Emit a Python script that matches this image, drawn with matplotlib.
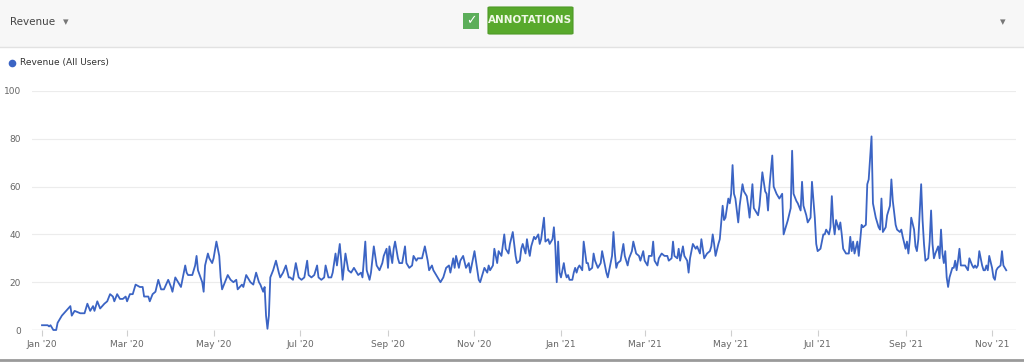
import matplotlib
matplotlib.use("Agg")
import matplotlib.pyplot as plt
from matplotlib.patches import Rectangle, FancyBboxPatch
from matplotlib.lines import Line2D
import pandas as pd

W, H = 1024, 363
START = pd.Timestamp("2020-01-01")

# days since 1 Jan 2020
day_offsets = [
    0, 2, 4, 5, 6, 7, 8, 9, 10, 11, 13, 14, 17, 20, 21, 23, 27, 30, 32, 34, 36, 37, 39, 41,
    44, 46, 48, 50, 51, 53, 55, 57, 59, 60, 62, 64, 66, 69, 71, 72, 75, 76, 78, 80, 82, 84,
    86, 89, 91, 92, 94, 96, 98, 101, 102, 103, 106, 108, 109, 110, 113, 114, 115, 117, 118,
    120, 121, 123, 125, 126, 127, 129, 131, 133, 135, 137, 138, 141, 142, 144, 147, 149, 151,
    153, 154, 156, 157, 158, 159, 160, 161, 163, 165, 167, 168, 170, 172, 174, 175, 177, 179,
    181, 183, 185, 187, 188, 190, 192, 194, 195, 197, 199, 200, 202, 204, 205, 207, 208, 210,
    211, 212, 214, 216, 218, 220, 221, 223, 225, 226, 228, 229, 231, 232, 234, 236, 238, 240,
    241, 243, 244, 245, 247, 248, 249, 251, 252, 254, 256, 257, 259, 261, 262, 264, 265, 268,
    270, 272, 273, 275, 276, 278, 280, 281, 283, 285, 287, 288, 290, 291, 292, 294, 295, 297,
    299, 301, 302, 304, 305, 307, 308, 309, 311, 312, 314, 315, 316, 318, 319, 321, 322, 324,
    326, 327, 329, 330, 332, 334, 335, 337, 338, 339, 341, 342, 343, 344, 345, 347, 348, 350,
    351, 352, 354, 355, 357, 358, 360, 361, 362, 363, 364, 365, 366, 368, 369, 370, 371, 372,
    374, 375, 376, 377, 378, 379, 381, 382, 384, 385, 386, 388, 389, 390, 392, 394, 395, 397,
    398, 399, 401, 402, 403, 404, 405, 406, 408, 410, 411, 413, 414, 416, 417, 419, 421, 422,
    424, 425, 427, 428, 430, 431, 432, 434, 435, 437, 439, 441, 442, 444, 445, 446, 448, 449,
    450, 452, 453, 455, 456, 457, 459, 461, 462, 464, 465, 467, 469, 471, 472, 473, 474, 475,
    477, 478, 480, 481, 482, 484, 485, 486, 487, 488, 489, 491, 492, 494, 495, 497, 498, 499,
    501, 502, 504, 505, 506, 508, 510, 511, 512, 513, 515, 516, 518, 520, 522, 523, 525, 526,
    528, 529, 530, 532, 533, 535, 536, 537, 539, 540, 542, 543, 545, 546, 547, 549, 551, 552,
    553, 555, 556, 557, 558, 559, 560, 562, 563, 564, 565, 567, 569, 570, 571, 572, 573, 575,
    576, 578, 579, 581, 582, 583, 584, 585, 586, 588, 590, 591, 592, 593, 595, 596, 598, 599,
    600, 602, 603, 605, 606, 607, 609, 610, 611, 612, 613, 615, 616, 617, 618, 620, 621, 622,
    623, 625, 626, 627, 628, 629, 630, 632, 633, 634, 635, 636, 637, 638, 639, 640, 642, 643,
    644, 645, 646, 647, 648, 650, 651, 652, 653, 654, 656, 657, 658, 659, 660, 661, 663, 664,
    665, 666, 667, 668, 670, 671, 672, 673, 674, 676, 677, 678, 679, 680,
]

revenue = [
    2, 2, 2, 1.5, 2, 1, 0, 0, 0, 3, 5, 6, 8, 10, 6, 8, 7, 7, 11, 8, 10, 8, 12, 9,
    11, 12, 15, 14, 12, 15, 13, 13, 14, 12, 15, 15, 19, 18, 18, 14, 14, 12, 15, 16, 21, 17,
    17, 21, 18, 16, 22, 20, 18, 27, 24, 23, 23, 27, 31, 25, 20, 16, 27, 32, 30,
    28, 30, 37, 31, 22, 17, 20, 23, 21, 20, 21, 17, 19, 18, 23, 20, 19, 24,
    20, 19, 16, 18, 6, 0.5, 6, 22, 25, 29, 24, 22, 24, 27, 22, 22, 21, 28,
    22, 21, 22, 29, 23, 22, 23, 27, 22, 21, 22, 27, 22, 22, 24, 32, 27, 36,
    29, 21, 32, 25, 24, 26, 25, 23, 24, 22, 37, 25, 21, 24, 35, 27, 25, 28,
    31, 34, 26, 35, 28, 34, 37, 30, 28, 28, 35, 28, 26, 27, 31, 29, 30, 30,
    35, 29, 25, 27, 25, 23, 21, 20, 22, 26, 27, 24, 30, 26, 31, 26, 29, 31,
    26, 28, 24, 30, 33, 25, 21, 20, 24, 26, 24, 27, 25, 27, 34, 28, 33, 31,
    40, 34, 32, 36, 41, 31, 28, 29, 34, 36, 32, 38, 34, 31, 35, 39, 38, 40,
    36, 38, 47, 37, 38, 36, 38, 43, 35, 20, 37, 24, 22, 28, 24, 22, 23, 21,
    21, 24, 26, 24, 26, 27, 25, 37, 28, 28, 25, 26, 32, 29, 26, 28, 33, 27,
    24, 22, 28, 31, 41, 32, 26, 28, 29, 36, 31, 27, 30, 33, 37, 32, 31, 29,
    33, 29, 27, 31, 31, 37, 29, 27, 30, 32, 31, 31, 29, 30, 37, 31, 30, 34,
    29, 35, 31, 29, 24, 30, 36, 34, 35, 32, 38, 30, 32, 33, 35, 40, 36, 31,
    36, 38, 52, 46, 47, 55, 53, 57, 69, 57, 55, 45, 52, 61, 58, 56, 52, 47,
    61, 51, 49, 48, 52, 66, 58, 57, 50, 60, 73, 60, 57, 55, 57, 40, 44, 46,
    51, 75, 57, 54, 53, 50, 62, 52, 48, 45, 47, 62, 47, 36, 33, 34, 40, 40,
    42, 40, 43, 56, 45, 40, 46, 42, 45, 40, 34, 32, 32, 39, 33, 37, 32, 37,
    31, 44, 43, 44, 61, 63, 72, 81, 53, 47, 43, 42, 55, 41, 43, 48, 52, 63,
    54, 44, 42, 41, 42, 39, 34, 37, 32, 38, 47, 42, 35, 33, 38, 61, 46, 36,
    29, 30, 37, 50, 36, 30, 32, 35, 30, 42, 32, 28, 33, 22, 18, 22, 26, 26,
    29, 25, 29, 34, 27, 27, 27, 26, 25, 30, 27, 26, 27, 26, 27, 33, 27, 25,
    25, 27, 25, 31, 26, 22, 21, 25, 26, 27, 33, 27, 26, 25,
]

tick_months = ["2020-01-01", "2020-03-01", "2020-05-01", "2020-07-01", "2020-09-01",
               "2020-11-01", "2021-01-01", "2021-03-01", "2021-05-01", "2021-07-01",
               "2021-09-01", "2021-11-01"]
tick_labels = ["Jan '20", "Mar '20", "May '20", "Jul '20", "Sep '20", "Nov '20",
               "Jan '21", "Mar '21", "May '21", "Jul '21", "Sep '21", "Nov '21"]
y_ticks = [0, 20, 40, 60, 80, 100]

LINE = "#3b64c4"
TXT = "#666666"


def fx(px):
    return px / W


def fy(py):
    return 1 - py / H


fig = plt.figure(figsize=(W / 100, H / 100), dpi=100)
fig.patch.set_facecolor("white")

# header bar
fig.patches.append(Rectangle((0, fy(47)), 1, 47 / H, transform=fig.transFigure,
                             facecolor="#f7f7f7", edgecolor="none", zorder=0))
fig.lines.append(Line2D([0, 1], [fy(47), fy(47)], transform=fig.transFigure,
                        color="#e2e2e2", lw=1))
fig.text(fx(10), fy(22), "Revenue", fontsize=7.5, color="#444444", va="center")
fig.text(fx(63), fy(22), "\u25be", fontsize=8, color="#777777", va="center")
fig.text(fx(1000), fy(22), "\u25be", fontsize=8, color="#777777", va="center")

fig.patches.append(Rectangle((fx(463), fy(29)), 16 / W, 16 / H, transform=fig.transFigure,
                             facecolor="#5cae5a", edgecolor="none"))
fig.text(fx(471), fy(21), "\u2713", fontsize=9, color="white", ha="center", va="center",
         fontweight="bold")
fig.patches.append(FancyBboxPatch((fx(488), fy(34)), 85 / W, 27 / H,
                                  boxstyle="round,pad=0,rounding_size=0.002",
                                  transform=fig.transFigure, facecolor="#58a92c",
                                  edgecolor="#4e9a27", lw=0.8))
fig.text(fx(530), fy(20), "ANNOTATIONS", fontsize=7.5, color="#f0f8e6", ha="center",
         va="center", fontweight="bold")

# legend
fig.lines.append(Line2D([fx(12)], [fy(63)], transform=fig.transFigure, marker="o",
                        markersize=5.5, color=LINE, markeredgewidth=0, linestyle="none"))
fig.text(fx(20), fy(63), "Revenue (All Users)", fontsize=6.5, color="#333333", va="center")

# bottom border
fig.lines.append(Line2D([0, 1], [fy(360), fy(360)], transform=fig.transFigure,
                        color="#9a9a9a", lw=2))

# plot area
left, right, top, bottom = 32, 1016, 91, 330
ax = fig.add_axes([fx(left), fy(bottom), (right - left) / W, (bottom - top) / H])
dates = START + pd.to_timedelta(day_offsets, unit="D")
ax.plot(dates, revenue, color=LINE, lw=1.3, clip_on=False, zorder=3)

px_per_day = 1.418
ax.set_xlim(START + pd.Timedelta(days=(left - 42) / px_per_day),
            START + pd.Timedelta(days=(right - 42) / px_per_day))
ax.set_ylim(0, 100)

ax.set_yticks(y_ticks)
ax.set_yticklabels([str(v) for v in y_ticks])
ax.set_xticks(pd.to_datetime(tick_months))
ax.set_xticklabels(tick_labels)

for s in ax.spines.values():
    s.set_visible(False)
ax.yaxis.grid(True, color="#ececec", lw=0.8)
ax.axhline(0, color="#cfcfcf", lw=0.9, zorder=1)
ax.tick_params(axis="y", length=0, pad=8, labelsize=6.5, labelcolor=TXT)
ax.tick_params(axis="x", length=4, width=0.8, color="#cfcfcf", pad=3,
               labelsize=6.5, labelcolor=TXT)
ax.set_facecolor("white")

fig.savefig("out.png", dpi=100)
